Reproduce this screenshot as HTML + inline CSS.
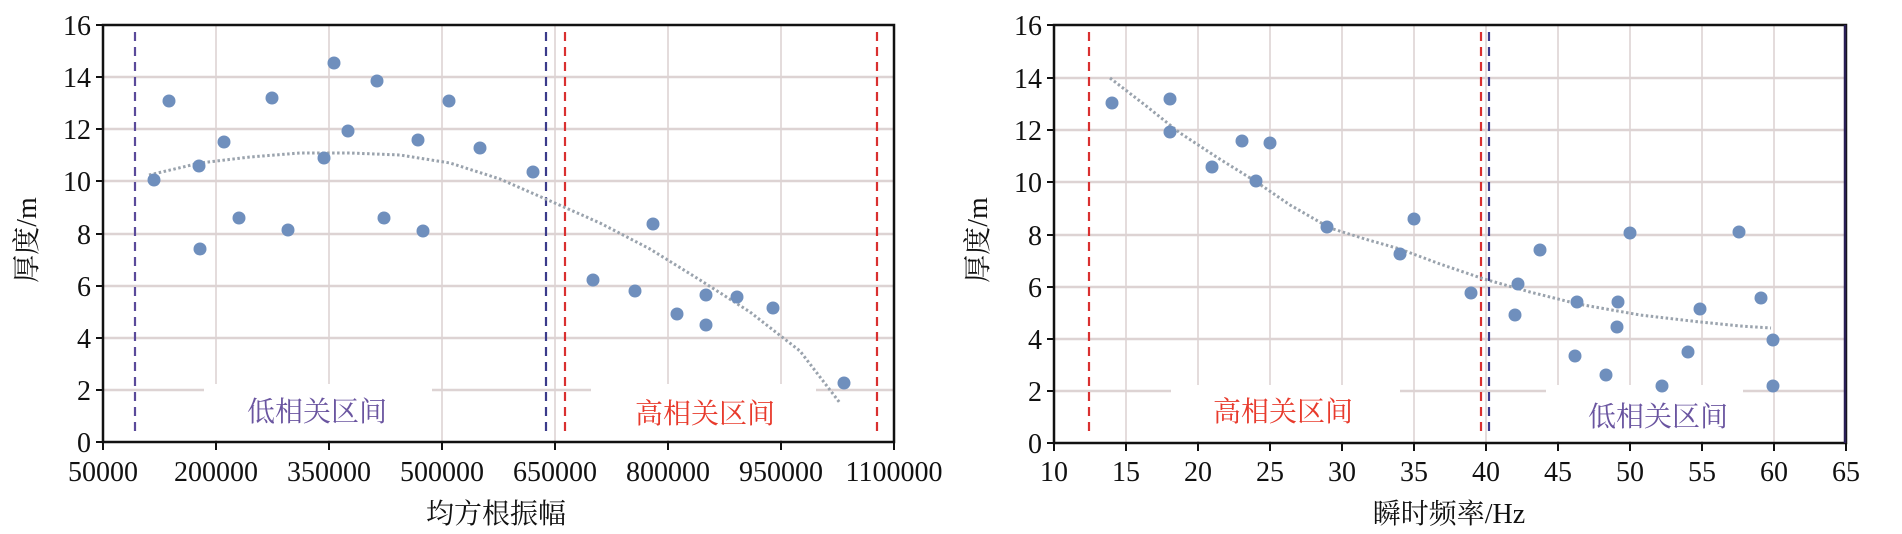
<!DOCTYPE html>
<html><head><meta charset="utf-8"><style>
html,body{margin:0;padding:0;background:#fff;}
svg{display:block;}
text{font-family:"Liberation Serif","Noto Serif CJK SC",serif;}
.t{font-size:28px;fill:#111;}
.cj{font-family:"Liberation Serif","Noto Serif CJK SC","Noto Sans CJK SC",serif;}
</style></head><body>
<svg width="1902" height="534" viewBox="0 0 1902 534" xmlns="http://www.w3.org/2000/svg">
<!-- LEFT CHART -->
<g stroke="#ddd3d3" stroke-width="1.6">
<line x1="216" y1="25" x2="216" y2="442"/><line x1="329" y1="25" x2="329" y2="442"/><line x1="442" y1="25" x2="442" y2="442"/><line x1="555" y1="25" x2="555" y2="442"/><line x1="668" y1="25" x2="668" y2="442"/><line x1="781" y1="25" x2="781" y2="442"/>
</g>
<g stroke="#ddd3d3" stroke-width="2.5">
<line x1="103" y1="390" x2="894" y2="390"/><line x1="103" y1="338" x2="894" y2="338"/><line x1="103" y1="286" x2="894" y2="286"/><line x1="103" y1="234" x2="894" y2="234"/><line x1="103" y1="181" x2="894" y2="181"/><line x1="103" y1="129" x2="894" y2="129"/><line x1="103" y1="77" x2="894" y2="77"/>
</g>
<rect x="204" y="384" width="228" height="56" fill="#fff"/>
<rect x="591" y="384" width="225" height="56" fill="#fff"/>
<g stroke-width="2.2" stroke-dasharray="9 6" fill="none">
<line x1="135" y1="32" x2="135" y2="431" stroke="#5a4a9a"/>
<line x1="546" y1="32" x2="546" y2="431" stroke="#3a3a8a"/>
<line x1="565" y1="32" x2="565" y2="431" stroke="#d93030"/>
<line x1="877" y1="32" x2="877" y2="431" stroke="#d93030"/>
</g>
<polyline points="149,175 200,163 250,157 300,153 350,153 400,155 450,163 500,179 548,200 600,223 650,249 700,280 750,312 800,351 840,403" fill="none" stroke="#9aa3ad" stroke-width="3" stroke-dasharray="2.5 2.5" stroke-linejoin="round"/>
<g fill="#6f8fbd">
<circle cx="154" cy="180" r="6.5"/><circle cx="169" cy="101" r="6.5"/><circle cx="199" cy="166" r="6.5"/><circle cx="200" cy="249" r="6.5"/><circle cx="224" cy="142" r="6.5"/><circle cx="239" cy="218" r="6.5"/><circle cx="272" cy="98" r="6.5"/><circle cx="288" cy="230" r="6.5"/><circle cx="324" cy="158" r="6.5"/><circle cx="334" cy="63" r="6.5"/><circle cx="348" cy="131" r="6.5"/><circle cx="377" cy="81" r="6.5"/><circle cx="384" cy="218" r="6.5"/><circle cx="418" cy="140" r="6.5"/><circle cx="423" cy="231" r="6.5"/><circle cx="449" cy="101" r="6.5"/><circle cx="480" cy="148" r="6.5"/><circle cx="533" cy="172" r="6.5"/><circle cx="593" cy="280" r="6.5"/><circle cx="635" cy="291" r="6.5"/><circle cx="653" cy="224" r="6.5"/><circle cx="677" cy="314" r="6.5"/><circle cx="706" cy="295" r="6.5"/><circle cx="706" cy="325" r="6.5"/><circle cx="737" cy="297" r="6.5"/><circle cx="773" cy="308" r="6.5"/><circle cx="844" cy="383" r="6.5"/>
</g>
<rect x="103" y="25" width="791" height="417" fill="none" stroke="#111" stroke-width="2.5"/>
<g stroke="#111" stroke-width="2">
<line x1="103" y1="442" x2="103" y2="450"/><line x1="216" y1="442" x2="216" y2="450"/><line x1="329" y1="442" x2="329" y2="450"/><line x1="442" y1="442" x2="442" y2="450"/><line x1="555" y1="442" x2="555" y2="450"/><line x1="668" y1="442" x2="668" y2="450"/><line x1="781" y1="442" x2="781" y2="450"/><line x1="894" y1="442" x2="894" y2="450"/>
<line x1="96" y1="442" x2="103" y2="442"/><line x1="96" y1="390" x2="103" y2="390"/><line x1="96" y1="338" x2="103" y2="338"/><line x1="96" y1="286" x2="103" y2="286"/><line x1="96" y1="234" x2="103" y2="234"/><line x1="96" y1="181" x2="103" y2="181"/><line x1="96" y1="129" x2="103" y2="129"/><line x1="96" y1="77" x2="103" y2="77"/><line x1="96" y1="25" x2="103" y2="25"/>
</g>
<g class="t" text-anchor="end">
<text x="91" y="452">0</text><text x="91" y="400">2</text><text x="91" y="348">4</text><text x="91" y="296">6</text><text x="91" y="244">8</text><text x="91" y="191">10</text><text x="91" y="139">12</text><text x="91" y="87">14</text><text x="91" y="35">16</text>
</g>
<g class="t" text-anchor="middle">
<text x="103" y="481">50000</text><text x="216" y="481">200000</text><text x="329" y="481">350000</text><text x="442" y="481">500000</text><text x="555" y="481">650000</text><text x="668" y="481">800000</text><text x="781" y="481">950000</text><text x="894" y="481">1100000</text>
</g>
<text class="t cj" x="496" y="523" text-anchor="middle">均方根振幅</text>
<text class="t cj" transform="translate(36,240) rotate(-90)" text-anchor="middle">厚度/m</text>
<text class="cj" x="317" y="421" font-size="28" fill="#6a55a0" text-anchor="middle">低相关区间</text>
<text class="cj" x="705" y="423" font-size="28" fill="#e83a2c" text-anchor="middle">高相关区间</text>

<!-- RIGHT CHART -->
<g stroke="#ddd3d3" stroke-width="1.6">
<line x1="1126" y1="25" x2="1126" y2="443"/><line x1="1198" y1="25" x2="1198" y2="443"/><line x1="1270" y1="25" x2="1270" y2="443"/><line x1="1342" y1="25" x2="1342" y2="443"/><line x1="1414" y1="25" x2="1414" y2="443"/><line x1="1486" y1="25" x2="1486" y2="443"/><line x1="1558" y1="25" x2="1558" y2="443"/><line x1="1630" y1="25" x2="1630" y2="443"/><line x1="1702" y1="25" x2="1702" y2="443"/><line x1="1774" y1="25" x2="1774" y2="443"/>
</g>
<g stroke="#ddd3d3" stroke-width="2.5">
<line x1="1054" y1="391" x2="1846" y2="391"/><line x1="1054" y1="339" x2="1846" y2="339"/><line x1="1054" y1="287" x2="1846" y2="287"/><line x1="1054" y1="235" x2="1846" y2="235"/><line x1="1054" y1="182" x2="1846" y2="182"/><line x1="1054" y1="130" x2="1846" y2="130"/><line x1="1054" y1="78" x2="1846" y2="78"/>
</g>
<rect x="1171" y="385" width="229" height="56" fill="#fff"/>
<rect x="1546" y="385" width="197" height="56" fill="#fff"/>
<g stroke-width="2.2" stroke-dasharray="9 6" fill="none">
<line x1="1089" y1="32" x2="1089" y2="431" stroke="#d93030"/>
<line x1="1481" y1="32" x2="1481" y2="431" stroke="#d93030"/>
<line x1="1489" y1="32" x2="1489" y2="431" stroke="#3a3a8a"/>
</g>
<polyline points="1110,78 1145,105 1180,133 1218,158 1255,181 1290,205 1330,228 1365,239 1400,249 1440,264 1484,279 1530,292 1578,304 1640,315 1700,322 1740,326 1771,328" fill="none" stroke="#9aa3ad" stroke-width="3" stroke-dasharray="2.5 2.5"/>
<g fill="#6f8fbd">
<circle cx="1112" cy="103" r="6.5"/><circle cx="1170" cy="99" r="6.5"/><circle cx="1170" cy="132" r="6.5"/><circle cx="1212" cy="167" r="6.5"/><circle cx="1242" cy="141" r="6.5"/><circle cx="1256" cy="181" r="6.5"/><circle cx="1270" cy="143" r="6.5"/><circle cx="1327" cy="227" r="6.5"/><circle cx="1400" cy="254" r="6.5"/><circle cx="1414" cy="219" r="6.5"/><circle cx="1471" cy="293" r="6.5"/><circle cx="1515" cy="315" r="6.5"/><circle cx="1518" cy="284" r="6.5"/><circle cx="1540" cy="250" r="6.5"/><circle cx="1575" cy="356" r="6.5"/><circle cx="1577" cy="302" r="6.5"/><circle cx="1606" cy="375" r="6.5"/><circle cx="1617" cy="327" r="6.5"/><circle cx="1618" cy="302" r="6.5"/><circle cx="1630" cy="233" r="6.5"/><circle cx="1662" cy="386" r="6.5"/><circle cx="1688" cy="352" r="6.5"/><circle cx="1700" cy="309" r="6.5"/><circle cx="1739" cy="232" r="6.5"/><circle cx="1761" cy="298" r="6.5"/><circle cx="1773" cy="340" r="6.5"/><circle cx="1773" cy="386" r="6.5"/>
</g>
<rect x="1054" y="25" width="792" height="418" fill="none" stroke="#111" stroke-width="2.5"/>
<line x1="1845" y1="25" x2="1845" y2="443" stroke="#2a1f55" stroke-width="2.5"/>
<g stroke="#111" stroke-width="2">
<line x1="1054" y1="443" x2="1054" y2="451"/><line x1="1126" y1="443" x2="1126" y2="451"/><line x1="1198" y1="443" x2="1198" y2="451"/><line x1="1270" y1="443" x2="1270" y2="451"/><line x1="1342" y1="443" x2="1342" y2="451"/><line x1="1414" y1="443" x2="1414" y2="451"/><line x1="1486" y1="443" x2="1486" y2="451"/><line x1="1558" y1="443" x2="1558" y2="451"/><line x1="1630" y1="443" x2="1630" y2="451"/><line x1="1702" y1="443" x2="1702" y2="451"/><line x1="1774" y1="443" x2="1774" y2="451"/><line x1="1846" y1="443" x2="1846" y2="451"/>
<line x1="1047" y1="443" x2="1054" y2="443"/><line x1="1047" y1="391" x2="1054" y2="391"/><line x1="1047" y1="339" x2="1054" y2="339"/><line x1="1047" y1="287" x2="1054" y2="287"/><line x1="1047" y1="235" x2="1054" y2="235"/><line x1="1047" y1="182" x2="1054" y2="182"/><line x1="1047" y1="130" x2="1054" y2="130"/><line x1="1047" y1="78" x2="1054" y2="78"/><line x1="1047" y1="25" x2="1054" y2="25"/>
</g>
<g class="t" text-anchor="end">
<text x="1042" y="453">0</text><text x="1042" y="401">2</text><text x="1042" y="349">4</text><text x="1042" y="297">6</text><text x="1042" y="245">8</text><text x="1042" y="192">10</text><text x="1042" y="140">12</text><text x="1042" y="88">14</text><text x="1042" y="35">16</text>
</g>
<g class="t" text-anchor="middle">
<text x="1054" y="481">10</text><text x="1126" y="481">15</text><text x="1198" y="481">20</text><text x="1270" y="481">25</text><text x="1342" y="481">30</text><text x="1414" y="481">35</text><text x="1486" y="481">40</text><text x="1558" y="481">45</text><text x="1630" y="481">50</text><text x="1702" y="481">55</text><text x="1774" y="481">60</text><text x="1846" y="481">65</text>
</g>
<text class="t cj" x="1449" y="523" text-anchor="middle">瞬时频率/Hz</text>
<text class="t cj" transform="translate(987,240) rotate(-90)" text-anchor="middle">厚度/m</text>
<text class="cj" x="1283" y="421" font-size="28" fill="#e83a2c" text-anchor="middle">高相关区间</text>
<text class="cj" x="1658" y="426" font-size="28" fill="#6a55a0" text-anchor="middle">低相关区间</text>
</svg>
</body></html>
